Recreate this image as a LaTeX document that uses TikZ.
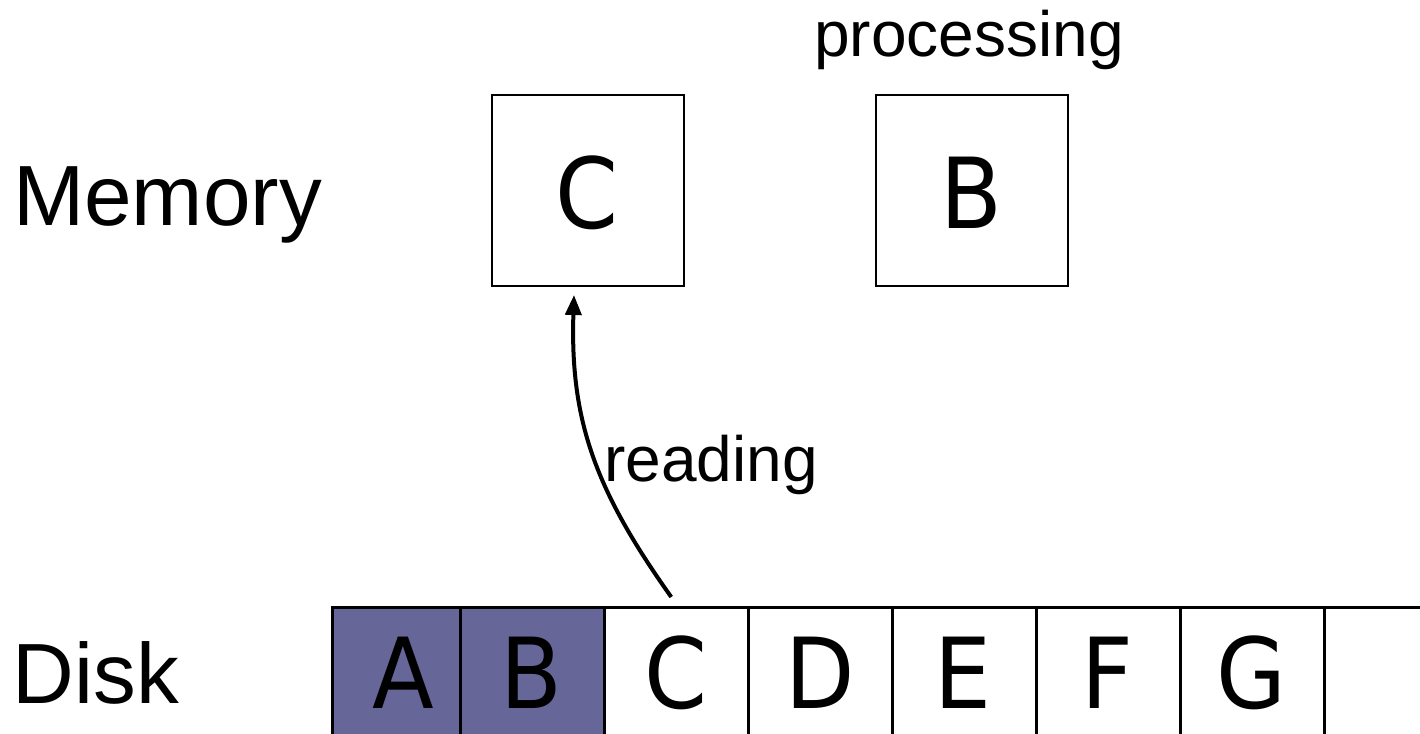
\documentclass[tikz,border=0pt]{standalone}
\usepackage{fontspec}
\setmainfont{Liberation Sans}
\newfontfamily\boxfont[FakeStretch=0.92]{DejaVu Sans}
\usetikzlibrary{arrows.meta}
\definecolor{diskfill}{RGB}{102,102,153}
\begin{document}
\begin{tikzpicture}[x=1pt,y=-1pt,
  lbl/.style={anchor=base west,inner sep=0pt,font=\fontsize{85.5}{85.5}\selectfont},
  small/.style={anchor=base west,inner sep=0pt,font=\fontsize{64}{64}\selectfont},
  membox/.style={draw=black,line width=2pt,minimum width=192pt,minimum height=191pt,inner sep=0pt,anchor=north west},
  cell/.style={draw=black,line width=2.5pt,minimum height=160pt,inner sep=0pt,anchor=north west},
  letter/.style={font=\boxfont\fontsize{98}{98}\selectfont,inner sep=0pt,anchor=base}
]
\useasboundingbox (0,0) rectangle (1420,733);
\node[lbl] (memlbl) at (13,225) {Memory};
\node[lbl] (disklbl) at (12.5,703) {Disk};
\node[membox] (mC) at (491,94) {};
\node[membox] (mB) at (875,94) {};
\node[letter] (tC) at (587,228) {C};
\node[letter] (tB) at (971,228) {B};
\node[small] (proc) at (814,57) {processing};
\begin{scope}
\clip (0,0) rectangle (1420,733);
\node[cell,fill=diskfill,minimum width=128pt] (cA) at (331,606) {};
\node[cell,fill=diskfill,minimum width=144pt] (cB) at (459,606) {};
\node[cell,minimum width=144pt] (cC) at (603,606) {};
\node[cell,minimum width=144pt] (cD) at (747,606) {};
\node[cell,minimum width=144pt] (cE) at (891,606) {};
\node[cell,minimum width=144pt] (cF) at (1035,606) {};
\node[cell,minimum width=144pt] (cG) at (1179,606) {};
\node[cell,minimum width=144pt] (cH) at (1323,606) {};
\end{scope}
\foreach \n/\l/\x in {lA/A/403,lB/B/531,lC/C/676,lD/D/820,lE/E/963,lF/F/1107,lG/G/1251}
  \node[letter] (\n) at (\x,708) {\l};
\node[small] (rd) at (604,481) {reading};
\draw[line width=4pt,-{Triangle[length=20pt,width=16pt]}]
  ([xshift=-5pt,yshift=9pt]cC.north) .. controls (595,490) and (570,420) .. ([xshift=-14pt,yshift=-8pt]mC.south);
\end{tikzpicture}
\end{document}
